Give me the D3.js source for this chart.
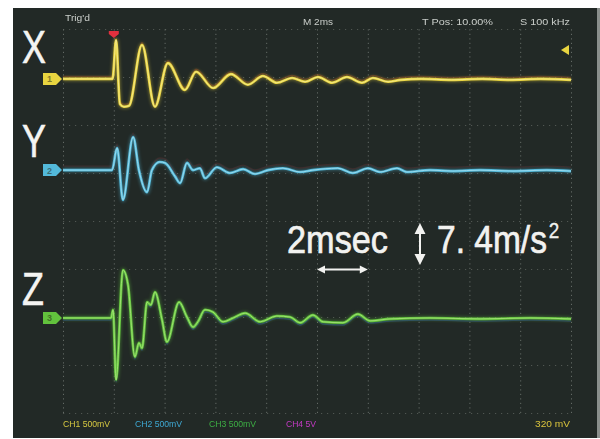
<!DOCTYPE html>
<html>
<head>
<meta charset="utf-8">
<script src="https://cdn.jsdelivr.net/npm/d3@7"></script>
<style>
  html, body { margin: 0; padding: 0; background: #ffffff; }
  svg { display: block; }
</style>
</head>
<body>
<script>
// Acceleration traces, three axes: time in ms after trigger, reading in mV
const xTime = [-2.0, -0.05, 0.09, 0.24, 0.40, 0.60, 1.11, 1.62, 2.13, 2.80, 3.24, 3.91, 4.61, 5.28, 5.87, 6.42, 7.02, 7.53, 8.04, 8.59, 9.18, 9.77, 10.2, 10.8, 11.3, 12.1, 13.3, 14.5, 15.6, 16.8, 18.0];
const xVolt = [0, 0, 405, -260, -290, -280, 355, -290, 165, -115, 75, -95, 50, -60, 30, -40, 10, -30, 20, -40, 20, -40, 10, -30, -10, 0, -10, 0, -10, 0, -10];

const yTime = [-2.0, -0.07, 0.13, 0.36, 0.76, 0.99, 1.31, 1.50, 1.81, 2.02, 2.41, 2.61, 2.88, 3.12, 3.39, 3.59, 4.06, 4.57, 5.09, 5.56, 6.07, 6.66, 7.33, 7.84, 8.82, 9.41, 10.01, 10.48, 11.15, 11.54, 12.45, 13.35, 14.42, 15.72, 17.05, 18.0];
const yVolt = [0, 0, 230, -310, 345, 0, -230, 0, 85, 75, -65, -135, 75, 0, 20, -85, 30, -30, 10, -40, 0, 20, -20, 0, 20, -30, 20, -20, 20, -20, 0, -10, 0, -10, 0, -10];

const zTime = [-2.0, -0.11, -0.03, 0.09, 0.36, 0.56, 0.83, 0.99, 1.11, 1.31, 1.46, 1.62, 1.90, 2.09, 2.57, 2.88, 3.12, 3.31, 3.59, 3.91, 4.30, 4.70, 5.17, 5.76, 6.42, 6.94, 7.33, 7.84, 8.24, 9.02, 9.61, 10.09, 10.87, 12.45, 14.42, 16.39, 18.0];
const zVolt = [0, 0, 85, -645, 500, 345, -405, -260, -315, 165, 135, 270, -20, -250, 165, 10, -95, -40, 85, 60, -40, 0, 50, -40, 20, 10, -50, 30, -40, -50, 40, -30, -10, 0, -10, 0, -10];

const channelNames = ["X", "Y", "Z"];
const channelOffsets = [1480, 530, -1010];     // ground level of each trace, mV
const channelColors = ["#e8d440", "#52b9da", "#62c23c"];
const channelCores = ["#f8f0a0", "#b4e6f4", "#b4ec84"];

const timeTicks = [-2, 0, 2, 4, 6, 8, 10, 12, 14, 16, 18];
const voltTicks = [-2000, -1500, -1000, -500, 0, 500, 1000, 1500, 2000];

const statusLabels = ["Trig'd", "M 2ms", "T Pos: 10.00%", "S 100 kHz"];
const scaleLabels = ["CH1 500mV", "CH2 500mV", "CH3 500mV", "CH4 5V", "320 mV"];
const scaleColors = ["#d6c840", "#3ea8d2", "#3cae44", "#c43ac4", "#d8c23c"];
const timeNote = "2msec";
const accelNote = "7. 4m/s";
const accelPower = "2";

const W = 600, H = 439;
const plot = { left: 63, right: 571, top: 29, bottom: 413 };

const svg = d3.select("body").append("svg").attr("width", W).attr("height", H);
const defs = svg.append("defs");
const soft = defs.append("filter").attr("id", "soft").attr("x", "-5%").attr("y", "-20%").attr("width", "110%").attr("height", "140%");
soft.append("feGaussianBlur").attr("stdDeviation", 0.45);
const glow = defs.append("filter").attr("id", "glow").attr("x", "-5%").attr("y", "-20%").attr("width", "110%").attr("height", "140%");
glow.append("feGaussianBlur").attr("stdDeviation", 1.6);

// screen
svg.append("rect").attr("x", 0).attr("y", 0).attr("width", W).attr("height", H).attr("fill", "#ffffff");
svg.append("rect").attr("x", 13).attr("y", 8).attr("width", 584).attr("height", 430).attr("fill", "#222926");
svg.append("rect").attr("x", 597).attr("y", 8).attr("width", 3).attr("height", 430).attr("fill", "#8a8f8c");

const x = d3.scaleLinear().domain([-2, 18]).range([plot.left, plot.right]);
const y = d3.scaleLinear().domain([-2000, 2000]).range([plot.bottom, plot.top]);

// graticule
const gx = svg.append("g").attr("transform", `translate(0,${plot.bottom})`)
  .call(d3.axisBottom(x).tickValues(timeTicks).tickSize(-(plot.bottom - plot.top)).tickFormat(""));
gx.select(".domain").remove();
gx.selectAll(".tick line").attr("stroke", "#7a807b").attr("stroke-width", 1).attr("stroke-dasharray", "1.2,3.3").attr("opacity", 0.75);

const gy = svg.append("g").attr("transform", `translate(${plot.left},0)`)
  .call(d3.axisLeft(y).tickValues(voltTicks).tickSize(-(plot.right - plot.left)).tickFormat(""));
gy.select(".domain").remove();
gy.selectAll(".tick line").attr("stroke", "#6f756f").attr("stroke-width", 1).attr("stroke-dasharray", "1.2,4.8").attr("opacity", 0.6);

// traces
const series = [
  { t: xTime, v: xVolt },
  { t: yTime, v: yVolt },
  { t: zTime, v: zVolt }
];
const fringes = [
  { color: "#7a3424", dy: -2.4, op: 0.55 },
  { color: "#6a2a2a", dy: -4, op: 0.35 },
  { color: "#2a4a9a", dy: 2.2, op: 0.55 }
];

series.forEach((s, i) => {
  const pts = s.t.map((t, k) => [t, s.v[k] + channelOffsets[i]]);
  const line = d3.line().x(d => x(d[0])).y(d => y(d[1])).curve(d3.curveMonotoneX);
  const g = svg.append("g");
  g.append("path").attr("d", line(pts)).attr("fill", "none")
    .attr("stroke", fringes[i].color).attr("stroke-width", 1.4).attr("opacity", fringes[i].op)
    .attr("transform", `translate(0,${fringes[i].dy})`).attr("filter", "url(#soft)");
  g.append("path").attr("d", line(pts)).attr("fill", "none")
    .attr("stroke", channelColors[i]).attr("stroke-width", 4.5).attr("opacity", 0.35).attr("filter", "url(#glow)");
  g.append("path").attr("d", line(pts)).attr("fill", "none")
    .attr("stroke", channelColors[i]).attr("stroke-width", 2.6).attr("stroke-linejoin", "round").attr("filter", "url(#soft)");
  g.append("path").attr("d", line(pts)).attr("fill", "none")
    .attr("stroke", channelCores[i]).attr("stroke-width", 0.9).attr("opacity", 0.8).attr("stroke-linejoin", "round");

  // channel ground tag
  const yb = y(channelOffsets[i]);
  svg.append("path")
    .attr("d", `M43,${yb - 6}H56L62,${yb}L56,${yb + 6}H43Z`)
    .attr("fill", channelColors[i]).attr("filter", "url(#soft)");
  svg.append("text").attr("x", 49.5).attr("y", yb + 3.5).attr("text-anchor", "middle")
    .attr("font-family", "Liberation Sans, Arial, sans-serif").attr("font-size", 9).attr("font-weight", "bold")
    .attr("fill", "rgba(40,40,20,0.55)").text(i + 1);

  // axis letter
  svg.append("text")
    .attr("transform", `translate(22,${[63, 157, 305][i]}) scale(0.78,1)`)
    .attr("font-family", "Liberation Sans, Arial, sans-serif").attr("font-size", 46)
    .attr("fill", "#f4f4f2").attr("stroke", "#f4f4f2").attr("stroke-width", 0.6).text(channelNames[i]);
});

// trigger position and level markers
svg.append("path").attr("d", `M${x(0) - 5},31H${x(0) + 5}V34L${x(0)},38L${x(0) - 5},34Z`).attr("fill", "#e2303e");
svg.append("path").attr("d", "M561,50L569,45V55Z").attr("fill", "#e8d440");

// status line
const statusX = [65, 303, 422, 520];
const statusW = [25, 30, 71, 50];
statusLabels.forEach((s, i) => {
  svg.append("text").attr("x", statusX[i]).attr("y", i === 0 ? 21 : 25)
    .attr("font-family", "Liberation Sans, Arial, sans-serif").attr("font-size", 9)
    .attr("textLength", statusW[i]).attr("lengthAdjust", "spacingAndGlyphs")
    .attr("fill", "#c9cdc9").attr("filter", "url(#soft)").text(s);
});

// channel scale readout
const scaleX = [63, 135, 209, 286, 535];
const scaleW = [47, 47, 47, 30, 35];
scaleLabels.forEach((s, i) => {
  svg.append("text").attr("x", scaleX[i]).attr("y", 427)
    .attr("font-family", "Liberation Sans, Arial, sans-serif").attr("font-size", 9)
    .attr("textLength", scaleW[i]).attr("lengthAdjust", "spacingAndGlyphs")
    .attr("fill", scaleColors[i]).attr("filter", "url(#soft)").text(s);
});

// annotations
const noteFont = "Liberation Sans, Arial, sans-serif";
svg.append("text").attr("x", 287).attr("y", 253).attr("font-family", noteFont).attr("font-size", 39)
  .attr("textLength", 101).attr("lengthAdjust", "spacingAndGlyphs")
  .attr("fill", "#f2f2f0").attr("stroke", "#f2f2f0").attr("stroke-width", 0.7).text(timeNote);

// horizontal span arrow: one division = 2 ms
const ax0 = x(8), ax1 = x(10), ay = 269.5;
svg.append("line").attr("x1", ax0 + 4).attr("x2", ax1 - 4).attr("y1", ay).attr("y2", ay)
  .attr("stroke", "#f2f2f0").attr("stroke-width", 1.8);
svg.append("path").attr("d", `M${ax0},${ay}L${ax0 + 8},${ay - 4}L${ax0 + 8},${ay + 4}Z M${ax1},${ay}L${ax1 - 8},${ay - 4}L${ax1 - 8},${ay + 4}Z`)
  .attr("fill", "#f2f2f0");

// vertical span arrow
const vx = 420, vy0 = 223, vy1 = 265;
svg.append("line").attr("x1", vx).attr("x2", vx).attr("y1", vy0 + 8).attr("y2", vy1 - 8)
  .attr("stroke", "#f2f2f0").attr("stroke-width", 2);
svg.append("path").attr("d", `M${vx},${vy0}L${vx - 5.5},${vy0 + 11}L${vx + 5.5},${vy0 + 11}Z M${vx},${vy1}L${vx - 5.5},${vy1 - 11}L${vx + 5.5},${vy1 - 11}Z`)
  .attr("fill", "#f2f2f0");

// acceleration scale with its superscript kept in one text element
const accel = svg.append("text").attr("transform", "translate(437,253) scale(0.86,1)")
  .attr("font-family", noteFont).attr("font-size", 39)
  .attr("fill", "#f2f2f0").attr("stroke", "#f2f2f0").attr("stroke-width", 0.7);
accel.append("tspan").text(accelNote);
accel.append("tspan").attr("dx", 2).attr("dy", -15).attr("font-size", 22).attr("stroke-width", 0.3).text(accelPower);
</script>
</body>
</html>
